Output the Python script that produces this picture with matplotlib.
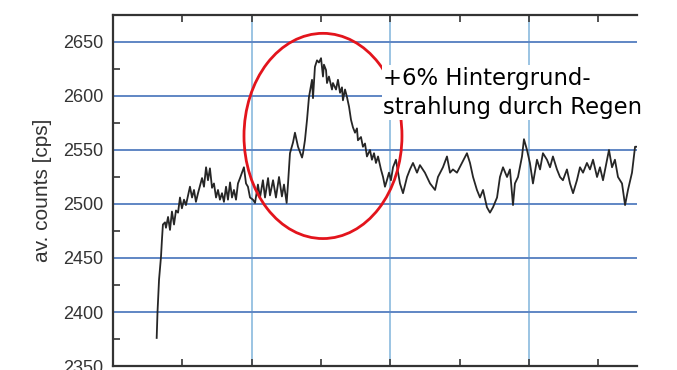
import matplotlib.pyplot as plt
from matplotlib.patches import Ellipse
from matplotlib.ticker import MultipleLocator, NullFormatter

# Averaged count rate of the probe over time (hours)
time_h = [
    0.315, 0.321, 0.332, 0.346, 0.353, 0.360, 0.375, 0.382, 0.397, 0.411,
    0.425, 0.440, 0.454, 0.469, 0.483, 0.497, 0.512, 0.526, 0.555, 0.570,
    0.584, 0.598, 0.613, 0.642, 0.656, 0.671, 0.685, 0.699, 0.714, 0.728,
    0.743, 0.757, 0.771, 0.786, 0.800, 0.815, 0.829, 0.844, 0.858, 0.872,
    0.887, 0.901, 0.916, 0.930, 0.944, 0.959, 0.973, 0.988, 1.009, 1.024,
    1.045, 1.060, 1.081, 1.096, 1.118, 1.132, 1.154, 1.175, 1.197, 1.218,
    1.233, 1.252, 1.262, 1.276, 1.298, 1.312, 1.334, 1.363, 1.370, 1.384,
    1.399, 1.413, 1.435, 1.442, 1.456, 1.471, 1.485, 1.500, 1.514, 1.521,
    1.536, 1.543, 1.557, 1.579, 1.586, 1.608, 1.622, 1.637, 1.651, 1.658,
    1.673, 1.687, 1.702, 1.716, 1.730, 1.745, 1.759, 1.766, 1.788, 1.802,
    1.817, 1.831, 1.853, 1.867, 1.882, 1.896, 1.911, 1.932, 1.947, 1.961,
    1.975, 1.990, 2.004, 2.019, 2.040, 2.069, 2.091, 2.120, 2.141, 2.163,
    2.192, 2.213, 2.249, 2.286, 2.322, 2.343, 2.379, 2.408, 2.430, 2.451,
    2.480, 2.516, 2.552, 2.574, 2.596, 2.624, 2.646, 2.668, 2.696, 2.718,
    2.740, 2.769, 2.790, 2.812, 2.841, 2.862, 2.884, 2.898, 2.920, 2.949,
    2.963, 2.985, 3.006, 3.028, 3.057, 3.079, 3.100, 3.129, 3.151, 3.172,
    3.201, 3.223, 3.244, 3.273, 3.295, 3.317, 3.345, 3.367, 3.389, 3.417,
    3.439, 3.461, 3.490, 3.511, 3.533, 3.562, 3.576, 3.598, 3.619, 3.641,
    3.670, 3.692, 3.713, 3.742, 3.764, 3.778,
]
counts = [
    2376, 2400, 2430, 2451, 2467, 2481, 2483, 2478, 2488, 2476,
    2493, 2481, 2494, 2492, 2506, 2496, 2504, 2499, 2516, 2506,
    2513, 2502, 2510, 2524, 2516, 2534, 2522, 2533, 2515, 2519,
    2506, 2513, 2504, 2510, 2502, 2516, 2504, 2520, 2506, 2513,
    2504, 2519, 2524, 2529, 2534, 2519, 2516, 2506, 2504, 2501,
    2518, 2506, 2522, 2506, 2524, 2508, 2522, 2506, 2525, 2507,
    2518, 2501, 2519, 2547, 2557, 2566, 2553, 2543, 2547, 2559,
    2578, 2599, 2615, 2598, 2627, 2633, 2631, 2635, 2618, 2629,
    2624, 2612, 2618, 2606, 2612, 2606, 2615, 2603, 2608, 2596,
    2606, 2599, 2590, 2578, 2571, 2566, 2570, 2559, 2562, 2553,
    2556, 2544, 2550, 2541, 2547, 2538, 2544, 2532, 2525, 2516,
    2522, 2529, 2522, 2534, 2541, 2519, 2510, 2525, 2532, 2538,
    2529, 2536, 2529, 2519, 2513, 2525, 2534, 2544, 2529, 2532,
    2529, 2538, 2547, 2538, 2525, 2513, 2506, 2513, 2497, 2492,
    2497, 2506, 2525, 2534, 2525, 2532, 2499, 2519, 2525, 2544,
    2560, 2550, 2538, 2519, 2541, 2532, 2547, 2541, 2534, 2544,
    2532, 2525, 2522, 2532, 2519, 2510, 2522, 2534, 2529, 2538,
    2532, 2541, 2525, 2534, 2522, 2541, 2550, 2534, 2541, 2525,
    2519, 2499, 2513, 2529, 2553, 2553,
]
y_ticks = [2350, 2400, 2450, 2500, 2550, 2600, 2650]
note = "+6% Hintergrund-\nstrahlung durch Regen"

plt.rcParams["font.family"] = ["Liberation Sans", "DejaVu Sans"]

fig = plt.figure(figsize=(6.77, 3.70), dpi=100)
ax = fig.add_axes([0.1669, 0.0108, 0.774, 0.9487])

ax.plot(time_h, counts, color="#262626", lw=1.3, zorder=3)

ax.set_xlim(0, 3.778)
ax.set_ylim(2350, 2675)
ax.set_yticks(y_ticks)
ax.yaxis.set_minor_locator(MultipleLocator(25))
ax.xaxis.set_major_locator(MultipleLocator(1))
ax.xaxis.set_minor_locator(MultipleLocator(0.5))
ax.xaxis.set_major_formatter(NullFormatter())
ax.tick_params(axis="y", which="major", direction="in", length=0,
               labelsize=13, labelcolor="#333333", pad=7)
ax.tick_params(axis="y", which="minor", direction="in", length=5, width=1.3,
               color="#444444")
ax.tick_params(axis="x", which="both", direction="in", length=5, width=1.3,
               color="#444444", top=True, bottom=True)

# horizontal grid darker blue, vertical grid lighter
ax.grid(axis="y", color="#5f86c4", lw=1.4, zorder=1)
ax.grid(axis="x", color="#93bfe0", lw=1.3, zorder=1)

for side in ("left", "top", "bottom"):
    ax.spines[side].set_color("#333333")
    ax.spines[side].set_linewidth(1.6)
ax.spines["right"].set_visible(False)

ax.set_ylabel("av. counts [cps]", fontsize=15, color="#333333", labelpad=8)

# rain event marker
ax.add_patch(Ellipse((1.514, 2563), 1.139, 190, fill=False, ec="#e3141c",
                     lw=2.0, zorder=4))
ax.text(1.947, 2603, note, fontsize=16.4, family="DejaVu Sans", color="black",
        va="center", ha="left", linespacing=1.35, zorder=5, clip_on=False,
        bbox=dict(facecolor="white", edgecolor="none", pad=1))

fig.savefig("out.png", dpi=100)
